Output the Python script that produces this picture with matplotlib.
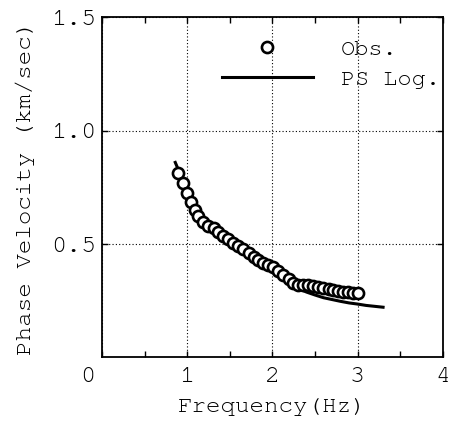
import matplotlib
matplotlib.use("Agg")
import matplotlib.pyplot as plt
import matplotlib.transforms as mtransforms

plt.rcParams['font.family'] = ['FreeMono', 'Liberation Mono', 'DejaVu Sans Mono']

obs_freq = [0.896, 0.955, 1.00, 1.045, 1.09, 1.13, 1.19, 1.25, 1.31, 1.365, 1.42, 1.48,
            1.54, 1.60, 1.66, 1.72, 1.78, 1.835, 1.89, 1.95, 2.01, 2.07, 2.13, 2.19,
            2.245, 2.30, 2.36, 2.42, 2.48, 2.54, 2.60, 2.66, 2.71, 2.77, 2.83, 2.89,
            2.95, 3.00]
obs_vel = [0.812, 0.771, 0.724, 0.687, 0.650, 0.624, 0.598, 0.579, 0.569, 0.554, 0.535, 0.521,
           0.506, 0.491, 0.477, 0.462, 0.444, 0.429, 0.417, 0.407, 0.400, 0.382, 0.363, 0.344,
           0.329, 0.319, 0.319, 0.319, 0.316, 0.312, 0.307, 0.301, 0.297, 0.293, 0.290, 0.287,
           0.285, 0.285]

ps_freq = [0.86, 0.95, 1.0, 1.1, 1.2, 1.3, 1.4, 1.5, 1.6, 1.7, 1.8, 1.9, 2.0, 2.1, 2.2,
           2.3, 2.4, 2.5, 2.6, 2.7, 2.8, 2.9, 3.0, 3.1, 3.2, 3.3]
ps_vel = [0.86, 0.78, 0.74, 0.67, 0.61, 0.57, 0.535, 0.503, 0.475, 0.45, 0.425, 0.40, 0.378,
          0.353, 0.328, 0.305, 0.288, 0.275, 0.263, 0.255, 0.247, 0.240, 0.235, 0.229, 0.225, 0.221]

x_ticks = [0, 1, 2, 3, 4]
x_ticklabels = ['0', '1', '2', '3', '4']
y_ticks = [0.5, 1.0, 1.5]
y_ticklabels = ['0.5', '1.0', '1.5']

fig = plt.figure(figsize=(4.54, 4.23), dpi=100)
ax = fig.add_axes([0.2247, 0.1553, 0.9751 - 0.2247, 0.9589 - 0.1553])

ax.plot(ps_freq, ps_vel, color='black', lw=2.2, label='PS Log.', zorder=2)
ax.plot(obs_freq, obs_vel, linestyle='none', marker='o', markersize=8,
        markerfacecolor='white', markeredgecolor='black', markeredgewidth=1.9,
        label='Obs.', zorder=3)

ax.set_xlim(0, 4)
ax.set_ylim(0, 1.5)
ax.set_xticks(x_ticks)
ax.set_xticklabels(x_ticklabels)
ax.set_xticks([0.5, 1.5, 2.5, 3.5], minor=True)
ax.set_yticks(y_ticks)
ax.set_yticklabels(y_ticklabels)

ax.tick_params(axis='both', which='both', direction='in', top=True, right=True,
               labelsize=18, width=1.0)
ax.tick_params(axis='x', which='major', length=4, pad=7)
ax.tick_params(axis='y', which='major', length=4, pad=4)
ax.tick_params(axis='both', which='minor', length=4)

# shift the "0" label to the corner
offset = mtransforms.ScaledTranslation(-14 / 100, 0, fig.dpi_scale_trans)
lbl0 = ax.get_xticklabels()[0]
lbl0.set_transform(lbl0.get_transform() + offset)

for s in ax.spines.values():
    s.set_linewidth(1.3)

ax.grid(True, which='major', color='black', linestyle=(0, (1, 2)), linewidth=0.8)

ax.set_xlabel('Frequency(Hz)', fontsize=17.5, labelpad=8)
ax.set_ylabel('Phase Velocity (km/sec)', fontsize=17.5, labelpad=12)

handles, labels = ax.get_legend_handles_labels()
leg = ax.legend([handles[1], handles[0]], [labels[1], labels[0]], loc='upper right',
                bbox_to_anchor=(0.993, 0.937),
                frameon=False, fontsize=17, handlelength=3.85, handletextpad=1.2,
                borderaxespad=0.0, labelspacing=0.4, borderpad=0.0)

fig.savefig('out.png', dpi=100)
